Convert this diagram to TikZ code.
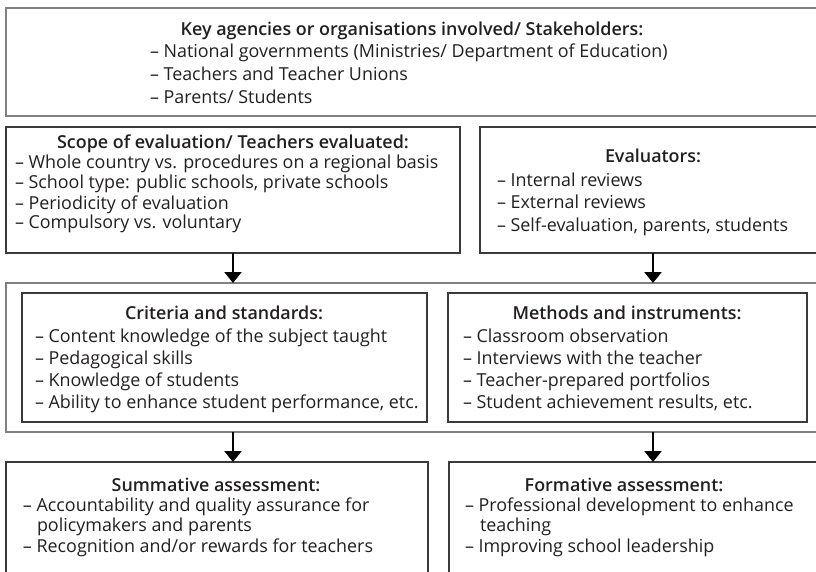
\documentclass[tikz,border=0pt]{standalone}
\usepackage{fontspec}
\setmainfont{Open Sans}[BoldFont={Open Sans Semibold}]
\usetikzlibrary{arrows.meta}
\definecolor{txt}{HTML}{231F20}
\definecolor{outerc}{HTML}{808080}
\definecolor{innerc}{HTML}{3A3A3A}
\begin{document}
\begin{tikzpicture}[x=1pt,y=-1pt,
  every node/.style={inner sep=0pt, outer sep=0pt, text=txt, font=\fontsize{17.9}{20}\selectfont},
  ttl/.style={anchor=base, font=\fontsize{17.9}{20}\selectfont\bfseries},
  itm/.style={anchor=base west},
  obox/.style={draw=outerc, line width=1.6pt, anchor=north west},
  ibox/.style={draw=innerc, line width=1.2pt, anchor=north west},
  flow/.style={draw=black, line width=2.4pt, -{Triangle[width=17pt,length=11pt]}}]
\useasboundingbox (0,0) rectangle (816,572);

% boxes
\node[obox, minimum width=817pt, minimum height=108pt] (top) at (6,8) {};
\node[ibox, minimum width=454pt, minimum height=126pt] (sl) at (6,127) {};
\node[ibox, minimum width=346pt, minimum height=126pt] (ev) at (480,127) {};
\node[obox, minimum width=820pt, minimum height=149pt] (mid) at (6,283) {};
\node[ibox, minimum width=405pt, minimum height=129pt] (cr) at (22,293) {};
\node[ibox, minimum width=359pt, minimum height=129pt] (me) at (448,293) {};
\node[ibox, minimum width=422pt, minimum height=130pt] (sum) at (6,462) {};
\node[ibox, minimum width=377pt, minimum height=130pt] (form) at (449,462) {};

% arrows
\draw[flow] (sl.south) -- (sl.south |- mid.north);
\draw[flow] (ev.south) -- (ev.south |- mid.north);
\draw[flow] (sl.south |- mid.south) -- (sl.south |- sum.north);
\draw[flow] (ev.south |- mid.south) -- (ev.south |- form.north);

% top box
\node[ttl] (t0) at (412,36) {Key agencies or organisations involved/ Stakeholders:};
\node[itm] (t1) at (150,58) {– National governments (Ministries/ Department of Education)};
\node[itm] (t2) at (150,81) {– Teachers and Teacher Unions};
\node[itm] (t3) at (150,104) {– Parents/ Students};

% scope
\node[ttl] (s0) at (233,149) {Scope of evaluation/ Teachers evaluated:};
\node[itm] (s1) at (15,169) {– Whole country vs. procedures on a regional basis};
\node[itm] (s2) at (15,189) {– School type: public schools, private schools};
\node[itm] (s3) at (15,209) {– Periodicity of evaluation};
\node[itm] (s4) at (15,229) {– Compulsory vs. voluntary};

% evaluators
\node[ttl] (e0) at (653,163) {Evaluators:};
\node[itm] (e1) at (497,186) {– Internal reviews};
\node[itm] (e2) at (497,208) {– External reviews};
\node[itm] (e3) at (497,231) {– Self-evaluation, parents, students};

% criteria
\node[ttl] (c0) at (224,319) {Criteria and standards:};
\node[itm] (c1) at (35,342) {– Content knowledge of the subject taught};
\node[itm] (c2) at (35,364) {– Pedagogical skills};
\node[itm] (c3) at (35,386) {– Knowledge of students};
\node[itm] (c4) at (35,408) {– Ability to enhance student performance, etc.};

% methods
\node[ttl] (m0) at (627,319) {Methods and instruments:};
\node[itm] (m1) at (463,342) {– Classroom observation};
\node[itm] (m2) at (463,364) {– Interviews with the teacher};
\node[itm] (m3) at (463,386) {– Teacher-prepared portfolios};
\node[itm] (m4) at (463,408) {– Student achievement results, etc.};

% summative
\node[ttl] (u0) at (216,491) {Summative assessment:};
\node[itm] (u1) at (23,511) {– Accountability and quality assurance for};
\node[itm] (u2) at (37,531) {policymakers and parents};
\node[itm] (u3) at (23,552) {– Recognition and/or rewards for teachers};

% formative
\node[ttl] (f0) at (624,491) {Formative assessment:};
\node[itm] (f1) at (465,511) {– Professional development to enhance};
\node[itm] (f2) at (480,531) {teaching};
\node[itm] (f3) at (465,552) {– Improving school leadership};
\end{tikzpicture}
\end{document}
